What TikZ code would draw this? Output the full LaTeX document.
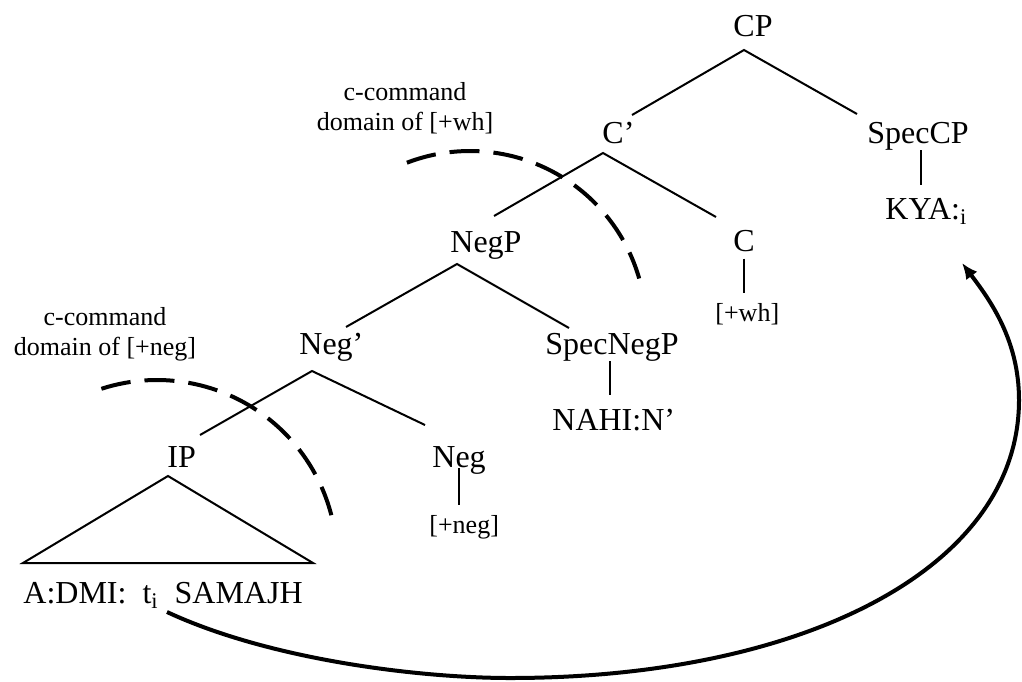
\documentclass[tikz,border=0pt]{standalone}
\usepackage{fontspec}
\setmainfont{Liberation Serif}
\usetikzlibrary{arrows.meta}

\tikzset{
  cat/.style={font=\fontsize{16}{19}\selectfont, anchor=base west, inner sep=0pt},
  feat/.style={font=\fontsize{13}{15}\selectfont, anchor=base west, inner sep=0pt},
  note/.style={font=\fontsize{13}{15}\selectfont, align=center, anchor=north, inner sep=0pt},
  branch/.style={line width=1pt},
  stem/.style={line width=0.7pt},
  cdomain/.style={line width=2pt, dash pattern=on 15pt off 7pt},
  movearrow/.style={line width=2pt, -{Latex[length=8pt,width=7pt]}}
}

\begin{document}
\begin{tikzpicture}[x=0.5pt,y=-0.5pt]
  \useasboundingbox (0,0) rectangle (1022,681);
  % labels, set on their baselines (pixel grid, y downwards)
  \node[cat] (CP) at (733,36) {CP};
  \node[cat] (Cbar) at (602,143) {C’};
  \node[cat] (SpecCP) at (867,143) {SpecCP};
  \node[cat] (KYA) at (885,219) {KYA:\textsubscript{i}};
  \node[cat] (C) at (733,251) {C};
  \node[feat] (wh) at (715,321) {[+wh]};
  \node[cat] (NegP) at (450,252) {NegP};
  \node[cat] (Negbar) at (299,354) {Neg’};
  \node[cat] (SpecNegP) at (545,354) {SpecNegP};
  \node[cat] (NAHI) at (552,430) {NAHI:N’};
  \node[cat] (Neg) at (432,467) {Neg};
  \node[feat] (neg) at (429,533) {[+neg]};
  \node[cat] (IP) at (167,467) {IP};
  \node[cat] (words) at (23,603) {A:DMI:\ \ t\textsubscript{i}\ \ SAMAJH};
  \node[note] (whnote) at (405,82) {c-command\\domain of [+wh]};
  \node[note] (negnote) at (105,307) {c-command\\domain of [+neg]};

  % branching points and branch ends
  \coordinate (CP-a) at (744,50);
  \coordinate (CP-l) at (632,115);
  \coordinate (CP-r) at (857,114);
  \coordinate (Cbar-a) at (603,153);
  \coordinate (Cbar-l) at (494,216);
  \coordinate (Cbar-r) at (716,217);
  \coordinate (NegP-a) at (457,264);
  \coordinate (NegP-l) at (346,327);
  \coordinate (NegP-r) at (569,328);
  \coordinate (Negbar-a) at (312,371);
  \coordinate (Negbar-l) at (200,435);
  \coordinate (Negbar-r) at (425,425);
  \coordinate (IP-a) at (168,476);
  \coordinate (IP-l) at (23,563);
  \coordinate (IP-r) at (313,563);

  \draw[branch] (CP-l) -- (CP-a) -- (CP-r);
  \draw[branch] (Cbar-l) -- (Cbar-a) -- (Cbar-r);
  \draw[branch] (NegP-l) -- (NegP-a) -- (NegP-r);
  \draw[branch] (Negbar-l) -- (Negbar-a) -- (Negbar-r);
  \draw[branch] (IP-a) -- (IP-r) -- (IP-l) -- cycle;

  % unary stems
  \draw[stem, shorten >=6pt] ([xshift=1.5pt]SpecCP.south) -- ([xshift=1.5pt]SpecCP.south |- KYA.north);
  \draw[stem, shorten <=3.5pt, shorten >=5pt] (C.south) -- (C.south |- wh.north);
  \draw[stem, shorten >=6.5pt] ([xshift=-1pt]SpecNegP.south) -- ([xshift=-1pt]SpecNegP.south |- NAHI.north);
  \draw[stem, shorten <=0.5pt, shorten >=5pt] (Neg.base) -- (Neg.base |- neg.north);

  % c-command domains
  \coordinate (whc) at (470,327);
  \coordinate (negc) at (157,560);
  \draw[cdomain] ([shift={(-111:176)}]whc) arc[start angle=-111, end angle=-16, radius=176];
  \draw[cdomain] ([shift={(-108:180)}]negc) arc[start angle=-108, end angle=-14, radius=180];

  % movement of the wh-word
  \coordinate (trace) at (167,612);
  \coordinate (dip) at (510,678);
  \coordinate (bend) at (1019,400);
  \coordinate (landing) at (962,263);
  \draw[movearrow] (trace) .. controls (270,660) and (420,678) .. (dip)
    .. controls (800,678) and (1019,570) .. (bend)
    .. controls (1019,340) and (990,300) .. (landing);
\end{tikzpicture}
\end{document}
